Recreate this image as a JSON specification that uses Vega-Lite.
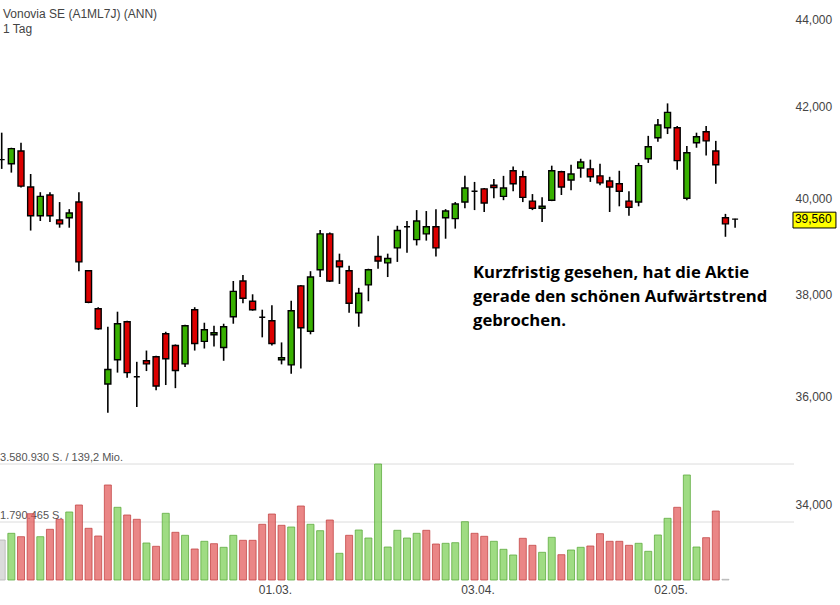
{
  "$schema": "https://vega.github.io/schema/vega-lite/v6.json",
  "width": 794,
  "height": 580,
  "autosize": {"type": "none"},
  "padding": {"left": 0, "top": 0, "right": 46, "bottom": 25},
  "background": "white",
  "config": {"view": {"stroke": null}, "font": "Liberation Sans"},
  "title": {
    "text": "Vonovia SE (A1ML7J) (ANN)",
    "subtitle": "1 Tag",
    "anchor": "start",
    "frame": "group",
    "orient": "top",
    "offset": -36,
    "dx": 3,
    "font": "Liberation Sans",
    "fontSize": 12,
    "fontWeight": "normal",
    "color": "#444444",
    "subtitleFont": "Liberation Sans",
    "subtitleFontSize": 12,
    "subtitleColor": "#444444",
    "subtitlePadding": 3
  },
  "datasets": {
    "ohlc": [
      {"i":0,"d":"22.01.","o":40.83,"h":41.42,"l":40.63,"c":40.83,"v":1234800,"vc":"n"},
      {"i":1,"d":"23.01.","o":40.74,"h":41.09,"l":40.55,"c":41.07,"v":1441600,"vc":"u"},
      {"i":2,"d":"24.01.","o":41.02,"h":41.20,"l":40.23,"c":40.26,"v":1336700,"vc":"d"},
      {"i":3,"d":"25.01.","o":40.24,"h":40.52,"l":39.32,"c":39.63,"v":2046700,"vc":"d"},
      {"i":4,"d":"26.01.","o":39.63,"h":40.13,"l":39.52,"c":40.04,"v":1336700,"vc":"u"},
      {"i":5,"d":"29.01.","o":40.07,"h":40.13,"l":39.50,"c":39.63,"v":1565100,"vc":"d"},
      {"i":6,"d":"30.01.","o":39.54,"h":39.92,"l":39.38,"c":39.46,"v":1873800,"vc":"d"},
      {"i":7,"d":"31.01.","o":39.59,"h":39.77,"l":39.38,"c":39.69,"v":2099200,"vc":"u"},
      {"i":8,"d":"01.02.","o":39.92,"h":40.13,"l":38.48,"c":38.67,"v":2315300,"vc":"d"},
      {"i":9,"d":"02.02.","o":38.49,"h":38.50,"l":37.83,"c":37.85,"v":1596000,"vc":"d"},
      {"i":10,"d":"05.02.","o":37.72,"h":37.75,"l":37.30,"c":37.32,"v":1358300,"vc":"d"},
      {"i":11,"d":"06.02.","o":36.24,"h":37.36,"l":35.69,"c":36.52,"v":2932700,"vc":"d"},
      {"i":12,"d":"07.02.","o":36.71,"h":37.66,"l":36.46,"c":37.42,"v":2244200,"vc":"u"},
      {"i":13,"d":"08.02.","o":37.46,"h":37.48,"l":36.36,"c":36.46,"v":2006600,"vc":"d"},
      {"i":14,"d":"09.02.","o":36.38,"h":36.67,"l":35.80,"c":36.38,"v":1873800,"vc":"d"},
      {"i":15,"d":"12.02.","o":36.69,"h":36.89,"l":36.49,"c":36.63,"v":1142200,"vc":"u"},
      {"i":16,"d":"13.02.","o":36.77,"h":36.79,"l":36.12,"c":36.20,"v":1040300,"vc":"d"},
      {"i":17,"d":"14.02.","o":37.22,"h":37.26,"l":36.22,"c":36.73,"v":2059000,"vc":"u"},
      {"i":18,"d":"15.02.","o":36.99,"h":37.01,"l":36.16,"c":36.50,"v":1472500,"vc":"d"},
      {"i":19,"d":"16.02.","o":36.63,"h":37.40,"l":36.57,"c":37.38,"v":1379900,"vc":"u"},
      {"i":20,"d":"19.02.","o":37.70,"h":37.75,"l":36.89,"c":37.03,"v":957000,"vc":"d"},
      {"i":21,"d":"20.02.","o":37.07,"h":37.44,"l":36.93,"c":37.30,"v":1194700,"vc":"u"},
      {"i":22,"d":"21.02.","o":37.20,"h":37.38,"l":36.97,"c":37.24,"v":1120600,"vc":"d"},
      {"i":23,"d":"22.02.","o":36.95,"h":37.42,"l":36.69,"c":37.36,"v":1009400,"vc":"u"},
      {"i":24,"d":"23.02.","o":37.56,"h":38.28,"l":37.42,"c":38.07,"v":1379900,"vc":"u"},
      {"i":25,"d":"26.02.","o":38.28,"h":38.40,"l":37.83,"c":37.93,"v":1225500,"vc":"d"},
      {"i":26,"d":"27.02.","o":37.87,"h":38.01,"l":37.68,"c":37.70,"v":1225500,"vc":"d"},
      {"i":27,"d":"28.02.","o":37.55,"h":37.70,"l":37.15,"c":37.55,"v":1719500,"vc":"d"},
      {"i":28,"d":"01.03.","o":37.48,"h":37.79,"l":36.99,"c":37.03,"v":2037400,"vc":"d"},
      {"i":29,"d":"02.03.","o":36.71,"h":37.05,"l":36.62,"c":36.75,"v":1688600,"vc":"d"},
      {"i":30,"d":"05.03.","o":36.61,"h":37.88,"l":36.44,"c":37.68,"v":1636100,"vc":"u"},
      {"i":31,"d":"06.03.","o":38.18,"h":38.20,"l":36.54,"c":37.34,"v":2284400,"vc":"d"},
      {"i":32,"d":"07.03.","o":37.27,"h":38.48,"l":37.21,"c":38.36,"v":1719500,"vc":"u"},
      {"i":33,"d":"08.03.","o":38.51,"h":39.33,"l":38.36,"c":39.25,"v":1521900,"vc":"u"},
      {"i":34,"d":"09.03.","o":39.25,"h":39.28,"l":38.26,"c":38.28,"v":1852200,"vc":"d"},
      {"i":35,"d":"12.03.","o":38.69,"h":38.84,"l":38.22,"c":38.57,"v":824200,"vc":"u"},
      {"i":36,"d":"13.03.","o":38.49,"h":38.59,"l":37.64,"c":37.83,"v":1379900,"vc":"d"},
      {"i":37,"d":"14.03.","o":37.64,"h":38.14,"l":37.36,"c":38.03,"v":1543500,"vc":"u"},
      {"i":38,"d":"15.03.","o":38.20,"h":38.53,"l":37.87,"c":38.51,"v":1296500,"vc":"u"},
      {"i":39,"d":"16.03.","o":38.78,"h":39.21,"l":38.53,"c":38.69,"v":3580930,"vc":"u"},
      {"i":40,"d":"19.03.","o":38.65,"h":38.84,"l":38.36,"c":38.74,"v":1018700,"vc":"u"},
      {"i":41,"d":"20.03.","o":38.96,"h":39.42,"l":38.67,"c":39.32,"v":1534200,"vc":"u"},
      {"i":42,"d":"21.03.","o":39.40,"h":39.52,"l":38.86,"c":39.40,"v":1296500,"vc":"u"},
      {"i":43,"d":"22.03.","o":39.13,"h":39.75,"l":39.01,"c":39.52,"v":1441600,"vc":"u"},
      {"i":44,"d":"23.03.","o":39.25,"h":39.73,"l":39.11,"c":39.40,"v":1534200,"vc":"d"},
      {"i":45,"d":"26.03.","o":39.40,"h":39.77,"l":38.78,"c":38.96,"v":1111300,"vc":"d"},
      {"i":46,"d":"27.03.","o":39.59,"h":39.77,"l":39.15,"c":39.73,"v":1132900,"vc":"u"},
      {"i":47,"d":"28.03.","o":39.57,"h":39.92,"l":39.36,"c":39.88,"v":1151500,"vc":"u"},
      {"i":48,"d":"29.03.","o":39.92,"h":40.48,"l":39.79,"c":40.22,"v":1799700,"vc":"u"},
      {"i":49,"d":"03.04.","o":40.15,"h":40.35,"l":39.75,"c":40.15,"v":1441600,"vc":"d"},
      {"i":50,"d":"04.04.","o":40.20,"h":40.22,"l":39.71,"c":39.90,"v":1349000,"vc":"d"},
      {"i":51,"d":"05.04.","o":40.28,"h":40.41,"l":40.00,"c":40.23,"v":1194700,"vc":"u"},
      {"i":52,"d":"06.04.","o":40.04,"h":40.48,"l":39.96,"c":40.22,"v":947700,"vc":"u"},
      {"i":53,"d":"09.04.","o":40.59,"h":40.68,"l":40.15,"c":40.31,"v":771800,"vc":"u"},
      {"i":54,"d":"10.04.","o":40.46,"h":40.59,"l":39.92,"c":40.02,"v":1287300,"vc":"d"},
      {"i":55,"d":"11.04.","o":39.94,"h":40.09,"l":39.75,"c":39.79,"v":1071200,"vc":"d"},
      {"i":56,"d":"12.04.","o":39.79,"h":40.02,"l":39.50,"c":39.83,"v":855100,"vc":"u"},
      {"i":57,"d":"13.04.","o":39.96,"h":40.70,"l":39.94,"c":40.59,"v":1318100,"vc":"u"},
      {"i":58,"d":"16.04.","o":40.57,"h":40.59,"l":40.07,"c":40.24,"v":781000,"vc":"d"},
      {"i":59,"d":"17.04.","o":40.39,"h":40.72,"l":40.17,"c":40.52,"v":926100,"vc":"u"},
      {"i":60,"d":"18.04.","o":40.65,"h":40.85,"l":40.44,"c":40.78,"v":1009400,"vc":"u"},
      {"i":61,"d":"19.04.","o":40.63,"h":40.83,"l":40.35,"c":40.46,"v":1049600,"vc":"d"},
      {"i":62,"d":"20.04.","o":40.48,"h":40.74,"l":40.28,"c":40.33,"v":1429300,"vc":"d"},
      {"i":63,"d":"23.04.","o":40.37,"h":40.46,"l":39.71,"c":40.24,"v":1194700,"vc":"d"},
      {"i":64,"d":"24.04.","o":40.31,"h":40.59,"l":39.83,"c":40.15,"v":1194700,"vc":"d"},
      {"i":65,"d":"25.04.","o":39.94,"h":40.15,"l":39.63,"c":39.81,"v":1071200,"vc":"d"},
      {"i":66,"d":"26.04.","o":39.92,"h":40.76,"l":39.83,"c":40.70,"v":1132900,"vc":"u"},
      {"i":67,"d":"27.04.","o":40.85,"h":41.35,"l":40.76,"c":41.11,"v":886000,"vc":"u"},
      {"i":68,"d":"30.04.","o":41.31,"h":41.72,"l":41.22,"c":41.59,"v":1389200,"vc":"u"},
      {"i":69,"d":"02.05.","o":41.53,"h":42.07,"l":41.39,"c":41.87,"v":1904700,"vc":"u"},
      {"i":70,"d":"03.05.","o":41.53,"h":41.57,"l":40.61,"c":40.81,"v":2244200,"vc":"d"},
      {"i":71,"d":"04.05.","o":40.00,"h":41.13,"l":39.96,"c":40.98,"v":3241400,"vc":"u"},
      {"i":72,"d":"07.05.","o":41.20,"h":41.42,"l":41.09,"c":41.33,"v":1018700,"vc":"u"},
      {"i":73,"d":"08.05.","o":41.44,"h":41.57,"l":40.92,"c":41.24,"v":1305800,"vc":"d"},
      {"i":74,"d":"09.05.","o":41.02,"h":41.24,"l":40.31,"c":40.72,"v":2130000,"vc":"d"},
      {"i":75,"d":"10.05.","o":39.59,"h":39.67,"l":39.19,"c":39.46,"v":21600,"vc":"n"},
      {"i":76,"d":"11.05.","o":39.56,"h":39.57,"l":39.38,"c":39.56}
    ],
    "vlines": [
      {"v": 1790465, "t": "1.790.465 S."},
      {"v": 3580930, "t": "3.580.930 S. / 139,2 Mio."}
    ],
    "last": [
      {"p": 39.56, "t": "39,560"}
    ],
    "note": [
      {"t": "Kurzfristig gesehen, hat die Aktie\ngerade den schönen Aufwärtstrend\ngebrochen."}
    ]
  },
  "resolve": {"scale": {"x": "independent", "y": "independent"}, "axis": {"x": "independent", "y": "independent"}},
  "layer": [
    {
      "data": {"name": "vlines"},
      "mark": {"type": "rule", "color": "#dcdcdc", "strokeWidth": 1},
      "encoding": {
        "y": {"field": "v", "type": "quantitative", "scale": {"type": "linear", "domain": [0, 17904650], "nice": false, "zero": true}, "axis": null}
      }
    },
    {
      "data": {"name": "vlines"},
      "mark": {"type": "text", "align": "left", "baseline": "bottom", "dy": -1, "fontSize": 11, "color": "#555555", "font": "Liberation Sans"},
      "encoding": {
        "x": {"datum": -0.17, "type": "quantitative", "scale": {"domain": [-0.1762, 82.104], "nice": false, "zero": false, "padding": 0}, "axis": null},
        "y": {"field": "v", "type": "quantitative", "scale": {"type": "linear", "domain": [0, 17904650], "nice": false, "zero": true}, "axis": null},
        "text": {"field": "t"}
      }
    },
    {
      "data": {"name": "ohlc"},
      "mark": {"type": "bar", "width": 7, "strokeWidth": 1, "fillOpacity": 0.75, "strokeOpacity": 0.75},
      "encoding": {
        "x": {"field": "i", "type": "quantitative", "scale": {"domain": [-0.1762, 82.104], "nice": false, "zero": false, "padding": 0},
          "axis": {"orient": "bottom", "values": [28, 49, 69], "labelExpr": "datum.value == 28 ? '01.03.' : datum.value == 49 ? '03.04.' : '02.05.'", "ticks": false, "domain": false, "grid": false, "labelPadding": 4, "labelFontSize": 12, "labelColor": "#444444", "labelFont": "Liberation Sans", "labelOffset": 3, "labelFlush": false, "title": null}},
        "y": {"field": "v", "type": "quantitative", "scale": {"type": "linear", "domain": [0, 17904650], "nice": false, "zero": true}, "axis": null},
        "fill": {"field": "vc", "type": "nominal", "scale": {"domain": ["u", "d", "n"], "range": ["#7fd05a", "#e35d5d", "#cfcfcf"]}, "legend": null},
        "stroke": {"field": "vc", "type": "nominal", "scale": {"domain": ["u", "d", "n"], "range": ["#5aa83a", "#c04040", "#b0b0b0"]}, "legend": null}
      }
    },
    {
      "data": {"name": "ohlc"},
      "mark": {"type": "rule", "color": "black", "strokeWidth": 1.6},
      "encoding": {
        "x": {"field": "i", "type": "quantitative", "scale": {"domain": [-0.1762, 82.104], "nice": false, "zero": false, "padding": 0}, "axis": null},
        "y": {"field": "l", "type": "quantitative", "scale": {"type": "log", "domain": [32.654, 44.447], "nice": false, "zero": false},
          "axis": {"orient": "right", "values": [34, 36, 38, 40, 42, 44], "labelExpr": "replace(format(datum.value, '.3f'), '.', ',')", "ticks": false, "domain": false, "grid": false, "labelPadding": 1, "labelFontSize": 12, "labelColor": "#444444", "labelFont": "Liberation Sans", "title": null}},
        "y2": {"field": "h"}
      }
    },
    {
      "data": {"name": "ohlc"},
      "mark": {"type": "bar", "width": 6, "stroke": "black", "strokeWidth": 1.4},
      "encoding": {
        "x": {"field": "i", "type": "quantitative", "scale": {"domain": [-0.1762, 82.104], "nice": false, "zero": false, "padding": 0}, "axis": null},
        "y": {"field": "o", "type": "quantitative", "scale": {"type": "log", "domain": [32.654, 44.447], "nice": false, "zero": false}, "axis": null},
        "y2": {"field": "c"},
        "fill": {"condition": {"test": "datum.c > datum.o", "value": "#38b000"}, "value": "#dc0000"}
      }
    },
    {
      "data": {"name": "last"},
      "mark": {"type": "rect", "fill": "#ffff00", "stroke": "black", "strokeWidth": 1},
      "encoding": {
        "x": {"datum": 82.0, "type": "quantitative", "scale": {"domain": [-0.1762, 82.104], "nice": false, "zero": false, "padding": 0}, "axis": null},
        "x2": {"datum": 86.45},
        "y": {"datum": 39.706, "type": "quantitative", "scale": {"type": "log", "domain": [32.654, 44.447], "nice": false, "zero": false}, "axis": null},
        "y2": {"datum": 39.374}
      }
    },
    {
      "data": {"name": "last"},
      "mark": {"type": "text", "align": "left", "baseline": "middle", "fontSize": 12, "color": "black", "font": "Liberation Sans"},
      "encoding": {
        "x": {"datum": 82.2, "type": "quantitative", "scale": {"domain": [-0.1762, 82.104], "nice": false, "zero": false, "padding": 0}, "axis": null},
        "y": {"field": "p", "type": "quantitative", "scale": {"type": "log", "domain": [32.654, 44.447], "nice": false, "zero": false}, "axis": null},
        "text": {"field": "t"}
      }
    },
    {
      "data": {"name": "note"},
      "mark": {"type": "text", "align": "left", "baseline": "top", "fontSize": 16.7, "fontWeight": "bold", "font": "Open Sans", "color": "black", "lineBreak": "\n", "lineHeight": 24},
      "encoding": {
        "x": {"datum": 48.84, "type": "quantitative", "scale": {"domain": [-0.1762, 82.104], "nice": false, "zero": false, "padding": 0}, "axis": null},
        "y": {"datum": 38.61, "type": "quantitative", "scale": {"type": "log", "domain": [32.654, 44.447], "nice": false, "zero": false}, "axis": null},
        "text": {"field": "t"}
      }
    }
  ]
}
